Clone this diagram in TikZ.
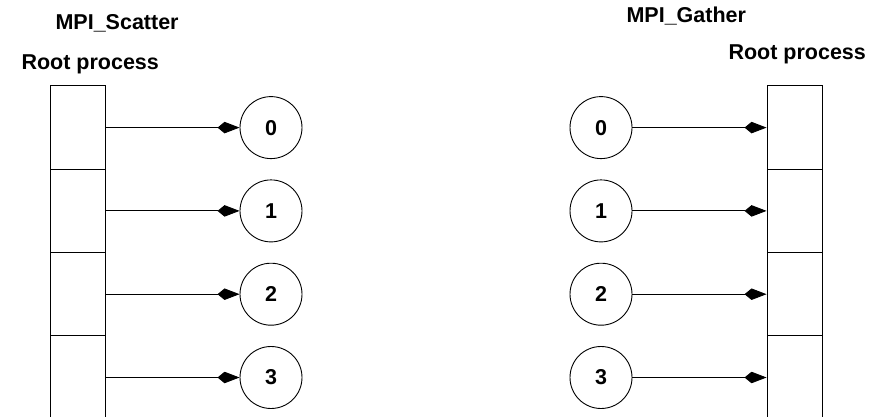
\documentclass[tikz,border=0pt]{standalone}
\usepackage{fontspec}
\setmainfont{Liberation Sans}
\usetikzlibrary{arrows.meta}
\begin{document}
\begin{tikzpicture}[x=1pt,y=-1pt,>={Kite[length=22pt,width=11.5pt,inset=7pt]},
		every node/.style={font=\fontsize{21.5}{26}\selectfont\bfseries},
		cell/.style={draw,line width=0.9pt,minimum width=55pt,minimum height=83.3pt,inner sep=0pt},
		proc/.style={draw,circle,line width=0.9pt,minimum size=62pt,inner sep=0pt}]
			\useasboundingbox (0,0) rectangle (883,417);
			\clip (0,0) rectangle (883,417);
			% scatter, root on the left
			\node[anchor=base west] (scattitle) at (52,29.3) {MPI\_Scatter};
			\node[anchor=base west] (sroottext) at (18,69.3) {Root process};
			\foreach \i in {0,...,3}{
				\node[cell] (sroot\i) at (77.5,{127.6+83.3*\i}) {};
				\node[proc] (sp\i) at (271,{127.6+83.3*\i}) {\i};
				\draw[->,line width=0.9pt] (sroot\i.east) -- (sp\i.west);
			}
			% gather, root on the right
			\node[anchor=base west] (gathtitle) at (623,22.7) {MPI\_Gather};
			\node[anchor=base west] (groottext) at (725,59.3) {Root process};
			\foreach \i in {0,...,3}{
				\node[cell] (groot\i) at (794.5,{127.6+83.3*\i}) {};
				\node[proc] (gp\i) at (601,{127.6+83.3*\i}) {\i};
				\draw[->,line width=0.9pt] (gp\i.east) -- (groot\i.west);
			}
		\end{tikzpicture}
\end{document}
